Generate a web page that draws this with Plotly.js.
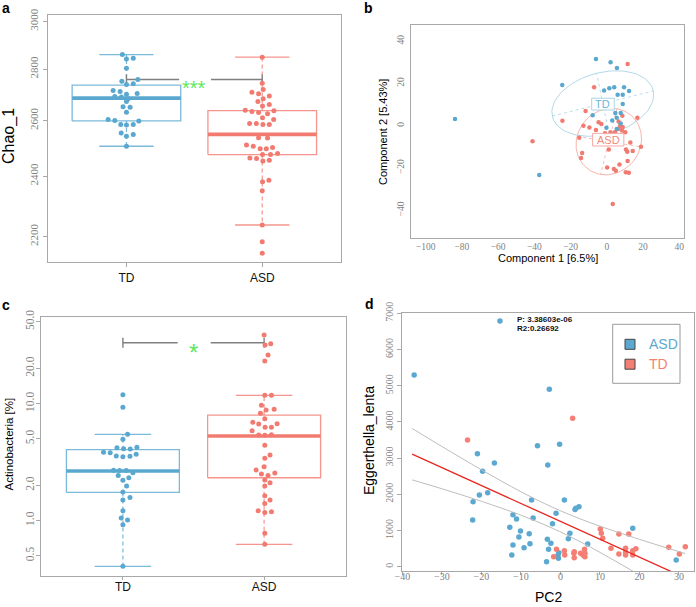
<!DOCTYPE html>
<html><head><meta charset="utf-8">
<script src="https://cdn.plot.ly/plotly-3.0.1.min.js"></script>
<style>html,body{margin:0;padding:0;background:#fff}#chart{width:696px;height:607px}</style>
</head><body><div id="chart"></div>
<script>
// ---------------- DATA ----------------
const groups = ['TD', 'ASD'];

// Panel a: Chao_1 (log axis)
const chaoTD = [2860, 2842, 2845, 2804, 2752, 2759, 2739, 2742, 2716, 2712, 2701, 2704, 2692, 2690, 2683, 2673, 2653, 2651, 2632, 2604, 2601, 2586, 2584, 2586, 2599, 2554, 2549, 2542, 2506];
const chaoTDJitter = [-0.03, 0, 0.05, 0, -0.034, 0.084, 0, 0.05, -0.098, -0.047, 0, 0.079, -0.086, -0.037, 0.012, 0, -0.025, 0.027, 0, -0.135, -0.086, -0.042, 0, 0.05, 0.091, -0.039, 0.05, 0, 0];
const chaoASD = [2849, 2744, 2719, 2709, 2703, 2694, 2683, 2673, 2661, 2656, 2639, 2635, 2631, 2626, 2637, 2611, 2604, 2589, 2589, 2586, 2586, 2537, 2536, 2510, 2506, 2497, 2497, 2501, 2476, 2476, 2480, 2464, 2462, 2453, 2456, 2381, 2386, 2350, 2237, 2184, 2148];
const chaoASDJitter = [0, 0, 0.007, -0.076, -0.027, 0.052, 0.007, -0.032, 0.052, 0.002, -0.125, -0.076, -0.027, 0.039, 0.086, 0.002, 0.084, -0.093, -0.044, 0.005, 0.052, -0.027, 0.039, -0.116, -0.066, -0.015, 0.03, 0.076, 0.002, 0.061, 0.113, -0.091, -0.042, 0.005, 0.052, 0.002, 0.049, 0, 0, 0, 0];
// [lower whisker, Q1, median, Q3, upper whisker]
const chaoBoxTD = [2506, 2599, 2686, 2737, 2860];
const chaoBoxASD = [2237, 2476, 2549, 2638, 2849];
const chaoTicks = [2200, 2400, 2600, 2800, 3000];
const chaoSigY = 2759, chaoSigLabel = '***', chaoStarY = 2744;

// Panel b: PCoA
const pcoaTDx = [-83.8, -37.3, -24.6, -6.0, 2.1, 5.6, -1.5, 1.4, 4.1, 9.5, 12.3, 6.0, 8.8, 8.8, -7.8, 4.7, 7.7, 5.5, 7.7, -0.2, 5.5, 3.0];
const pcoaTDy = [3.2, -23.3, 19.3, 31.5, 30.0, 27.3, 16.6, 17.7, 18.2, 18.2, 16.4, 14.6, 14.6, 10.3, 5.0, 6.0, 6.0, 3.8, 1.1, -0.9, -1.6, 2.5];
const pcoaASDx = [11.5, -7.0, -11.7, -24.5, 16.9, 8.6, -12.9, -9.6, -4.5, -3.0, -6.0, 7.3, 8.8, 6.6, 8.4, 2.1, 4.5, 10.2, -15.2, -41.0, 13.0, 18.9, 1.1, 10.6, 11.3, 14.3, -13.6, -14.2, 11.5, 7.0, 0.2, 3.9, 5.0, 10.5, 12.2, 3.3, -1.0, 6.5];
const pcoaASDy = [29.2, 18.2, 7.0, 2.4, 3.8, 4.7, 0.0, -0.8, 1.6, 0.8, -2.0, -0.1, -0.6, -1.4, -2.2, -3.1, -3.1, -3.1, -5.7, -7.3, -7.9, -9.9, -11.2, -11.2, -12.3, -12.0, -12.9, -15.2, -16.7, -18.3, -19.8, -20.5, -21.3, -22.0, -22.2, -37.0, -3.5, 2.0];
const ellTDCenter = [-2.2, 10.5], ellTDAxisA = [27.9, 5.9], ellTDAxisB = [-3.4, 14.3];
const ellASDCenter = [1.1, -7.5], ellASDAxisA = [17.5, -2.5], ellASDAxisB = [-4.5, -15.5];
const pcoaLabelTD = [-2.1, 10.2], pcoaLabelASD = [0.8, -6.6];
const pcoaXTicks = [-100, -80, -60, -40, -20, 0, 20, 40];
const pcoaYTicks = [-40, -20, 0, 20, 40];

// Panel c: Actinobacteria [%] (log axis)
const actTD = [11.89, 9.28, 5.46, 4.94, 4.19, 4.11, 4.08, 4.22, 3.83, 3.80, 3.56, 3.51, 3.54, 3.68, 2.69, 2.67, 2.67, 2.56, 2.43, 2.32, 2.21, 1.97, 1.75, 1.50, 1.57, 1.21, 1.05, 1.01, 0.92, 0.406];
const actTDJitter = [0, 0, 0.033, 0, -0.042, 0.005, 0.052, 0.099, -0.137, -0.09, -0.047, 0, 0.05, 0.094, -0.066, -0.024, 0.024, 0.071, -0.033, 0.042, 0, 0.026, 0, 0, 0.05, 0, -0.012, 0.033, 0, 0];
const actASD = [38.5, 31.6, 32.4, 25.97, 23.1, 11.75, 11.8, 9.65, 8.80, 8.92, 8.25, 7.41, 6.91, 6.68, 6.26, 6.26, 6.72, 5.85, 5.38, 5.35, 5.41, 4.39, 3.40, 3.63, 2.88, 2.70, 2.50, 2.43, 2.55, 2.22, 2.10, 1.97, 1.63, 1.50, 1.40, 1.21, 1.17, 1.19, 0.78, 0.626];
const actASDJitter = [0, 0.007, 0.047, 0.028, 0.005, 0.005, 0.052, -0.019, 0.014, 0.071, -0.026, 0.005, -0.08, -0.038, 0.007, 0.052, 0.092, -0.085, -0.038, 0.005, 0.052, 0.005, 0.005, 0.042, 0, -0.057, -0.019, 0.028, 0.076, 0.005, 0.042, 0.005, 0.005, 0.042, 0.005, -0.042, 0.005, 0.052, 0.005, 0.005];
const actBoxTD = [0.406, 1.74, 2.65, 4.03, 5.46];
const actBoxASD = [0.626, 2.32, 5.28, 7.97, 11.75];
const actTicks = [0.5, 1, 2, 5, 10, 20, 50];
const actTickText = ['0.5', '1.0', '2.0', '5.0', '10.0', '20.0', '50.0'];
const actSigY = 33.1, actSigLabel = '*', actStarY = 30.6;

// Panel d: Eggerthella_lenta vs PC2
const pc2ASD = [-37.0, -15.3, -2.8, -5.8, -0.2, -3.2, -21.0, -16.7, -19.7, -20.5, -18.4, -22.1, -22.2, -7.3, 1.0, 3.9, 4.7, 3.7, -1.1, -12.0, -11.1, -6.9, -2.0, -12.8, -10.1, 2.4, -10.5, -7.9, 2.0, -12.0, -7.7, -9.2, -3.3, -2.4, 6.9, -3.0, -12.3, -0.4, -0.6, -0.5, -3.5, 29.3, 18.3];
const eggASD = [5296, 6787, 4900, 3343, 3380, 2809, 3122, 2865, 2634, 1981, 2045, 1796, 1290, 1842, 1842, 1612, 1658, 1581, 1474, 1437, 1317, 1345, 1189, 1087, 986, 922, 820, 912, 774, 599, 636, 526, 756, 645, 627, 480, 323, 388, 323, 231, 139, 185, 1060];
const pc2TD = [-23.5, 3.1, 10.1, 10.35, 10.7, 14.8, 17.3, 12.8, 14.8, 16.5, 16.5, 16.5, 18.3, 18.3, 19.1, 27.4, 30.1, 31.6, -1.0, -1.7, 1.0, 1.1, 3.4, 3.5, 3.5, 5.1, 5.7, 6.2, 6.1, 6.2];
const eggTD = [3500, 4100, 1041, 922, 784, 903, 903, 507, 351, 507, 397, 323, 443, 323, 498, 535, 351, 553, 480, 277, 443, 323, 369, 249, 414, 369, 323, 369, 480, 277];
const fitX = [-37.5, 31.6], fitY = [3109, -311];
const bandX = [-37.5, -30, -20, -10, -2, 5, 10, 20, 31.6];
const bandUpper = [3820, 3322, 2679, 2072, 1642, 1322, 1120, 756, 363];
const bandLower = [2398, 2154, 1807, 1424, 1062, 690, 396, -230, -985];
const statP = 'P: 3.38603e-06', statR2 = 'R2:0.26692';
const pc2XTicks = [-40, -30, -20, -10, 0, 10, 20, 30];
const eggYTicks = [0, 1000, 2000, 3000, 4000, 5000, 6000, 7000];

// ---------------- STYLE ----------------
const W = 696, H = 607;
const fx = p => p / W, fy = p => 1 - p / H;
const BLUE = '#5aa8cf', RED = '#f27b71';
const BLUE_BOX = 'rgba(90,168,207,0.8)', RED_BOX = 'rgba(242,123,113,0.8)';
const SERIF = 'Liberation Serif, DejaVu Serif, serif';
const SANS = 'Liberation Sans, Arial, sans-serif';
const TICKGRAY = '#7f7f7f', FRAME = '#a8a8a8';

const traces = [];
function boxTraces(c, s, colBox, colMed, xa, ya) {
  const [lo, q1, med, q3, hi] = s, hw = 0.4, cw = 0.2;
  const common = {mode: 'lines', xaxis: xa, yaxis: ya, hoverinfo: 'skip', showlegend: false};
  return [
    Object.assign({x: [c, c, null, c, c], y: [q3, hi, null, q1, lo], line: {color: colBox, width: 1.2, dash: '4px,3px'}}, common),
    Object.assign({x: [c - hw, c + hw, c + hw, c - hw, c - hw, null, c - cw, c + cw, null, c - cw, c + cw],
                   y: [q1, q1, q3, q3, q1, null, hi, hi, null, lo, lo], line: {color: colBox, width: 1.3}}, common),
    Object.assign({x: [c - hw, c + hw], y: [med, med], line: {color: colMed, width: 3.6}}, common)
  ];
}
function pts(c, vals, jit, col, xa, ya, size) {
  return {x: vals.map((v, i) => c + jit[i]), y: vals, mode: 'markers', xaxis: xa, yaxis: ya,
          marker: {color: col, size: size, line: {width: 0}}, hoverinfo: 'skip', showlegend: false};
}
function bracket(yv, xa, ya) {
  return [
    {x: [1, 1.388, null, 1.622, 2], y: [yv, yv, null, yv, yv], mode: 'lines', xaxis: xa, yaxis: ya,
     line: {color: '#808080', width: 1.4}, hoverinfo: 'skip', showlegend: false},
    {x: [1, 2], y: [yv, yv], mode: 'markers', xaxis: xa, yaxis: ya,
     marker: {symbol: 'line-ns-open', size: 7, line: {color: '#808080', width: 1.4}}, hoverinfo: 'skip', showlegend: false}
  ];
}

// Panel a
traces.push(...boxTraces(1, chaoBoxTD, BLUE_BOX, BLUE, 'x', 'y'));
traces.push(...boxTraces(2, chaoBoxASD, RED_BOX, RED, 'x', 'y'));
traces.push(...bracket(chaoSigY, 'x', 'y'));
traces.push(pts(1, chaoTD, chaoTDJitter, BLUE, 'x', 'y', 5));
traces.push(pts(2, chaoASD, chaoASDJitter, RED, 'x', 'y', 5));

// Panel c
traces.push(...boxTraces(1, actBoxTD, BLUE_BOX, BLUE, 'x3', 'y3'));
traces.push(...boxTraces(2, actBoxASD, RED_BOX, RED, 'x3', 'y3'));
traces.push(...bracket(actSigY, 'x3', 'y3'));
traces.push(pts(1, actTD, actTDJitter, BLUE, 'x3', 'y3', 5));
traces.push(pts(2, actASD, actASDJitter, RED, 'x3', 'y3', 5));

// Panel b
function ellipse(c, a, b, col) {
  const xs = [], ys = [];
  for (let k = 0; k <= 90; k++) {
    const t = k * 2 * Math.PI / 90;
    xs.push(c[0] + a[0] * Math.cos(t) + b[0] * Math.sin(t));
    ys.push(c[1] + a[1] * Math.cos(t) + b[1] * Math.sin(t));
  }
  return [
    {x: xs, y: ys, mode: 'lines', xaxis: 'x2', yaxis: 'y2', line: {color: col, width: 0.9}, hoverinfo: 'skip', showlegend: false},
    {x: [c[0] - a[0], c[0] + a[0], null, c[0] - b[0], c[0] + b[0]], y: [c[1] - a[1], c[1] + a[1], null, c[1] - b[1], c[1] + b[1]],
     mode: 'lines', xaxis: 'x2', yaxis: 'y2', line: {color: col, width: 0.8, dash: 'dot'}, hoverinfo: 'skip', showlegend: false}
  ];
}
traces.push(...ellipse(ellTDCenter, ellTDAxisA, ellTDAxisB, '#a9d4e5'));
traces.push(...ellipse(ellASDCenter, ellASDAxisA, ellASDAxisB, '#f6aaa3'));
traces.push({x: pcoaASDx, y: pcoaASDy, mode: 'markers', xaxis: 'x2', yaxis: 'y2', marker: {color: RED, size: 4.5}, hoverinfo: 'skip', showlegend: false});
traces.push({x: pcoaTDx, y: pcoaTDy, mode: 'markers', xaxis: 'x2', yaxis: 'y2', marker: {color: BLUE, size: 4.5}, hoverinfo: 'skip', showlegend: false});

// Panel d
const D_BLUE = '#5ba9d0', D_RED = '#f47f74';
traces.push({x: pc2ASD, y: eggASD, mode: 'markers', xaxis: 'x4', yaxis: 'y4', marker: {color: D_BLUE, size: 5.5}, hoverinfo: 'skip', showlegend: false});
traces.push({x: pc2TD, y: eggTD, mode: 'markers', xaxis: 'x4', yaxis: 'y4', marker: {color: D_RED, size: 5.5}, hoverinfo: 'skip', showlegend: false});
traces.push({x: bandX, y: bandUpper, mode: 'lines', xaxis: 'x4', yaxis: 'y4', line: {color: '#bdbdbd', width: 1, shape: 'spline'}, hoverinfo: 'skip', showlegend: false});
traces.push({x: bandX, y: bandLower, mode: 'lines', xaxis: 'x4', yaxis: 'y4', line: {color: '#bdbdbd', width: 1, shape: 'spline'}, hoverinfo: 'skip', showlegend: false});
traces.push({x: fitX, y: fitY, mode: 'lines', xaxis: 'x4', yaxis: 'y4', line: {color: '#e8261f', width: 1.3}, hoverinfo: 'skip', showlegend: false});

// ---------------- LAYOUT ----------------
const axisBase = {showgrid: false, zeroline: false, showline: true, mirror: true, linecolor: FRAME, linewidth: 1,
                  ticks: 'outside', tickcolor: FRAME, ticklen: 4, tickwidth: 1, fixedrange: true};
const serifTick = s => ({family: SERIF, size: s, color: TICKGRAY});

const layout = {
  width: W, height: H, margin: {l: 0, r: 0, t: 0, b: 0}, autosize: false,
  paper_bgcolor: '#fff', plot_bgcolor: '#fff', hovermode: false, showlegend: false,
  xaxis: Object.assign({}, axisBase, {domain: [fx(47.7), fx(341)], anchor: 'y', range: [0.42, 2.58],
    tickvals: [1, 2], ticktext: groups, tickfont: {family: SANS, size: 12, color: '#111'}}),
  yaxis: Object.assign({}, axisBase, {domain: [fy(262.3), fy(14.7)], anchor: 'x', type: 'log',
    range: [Math.log10(2120), Math.log10(3029)], tickvals: chaoTicks, ticktext: chaoTicks.map(String),
    tickangle: -90, tickfont: serifTick(11)}),
  xaxis2: Object.assign({}, axisBase, {domain: [fx(411), fx(684.3)], anchor: 'y2', range: [-108.1, 42.8],
    tickvals: pcoaXTicks, tickfont: serifTick(9.5), ticks: '', ticklen: 0, ticklabelstandoff: -1}),
  yaxis2: Object.assign({}, axisBase, {domain: [fy(238.3), fy(25)], anchor: 'x2', range: [-53.2, 47.6],
    tickvals: pcoaYTicks, tickangle: -90, tickfont: serifTick(9.5), ticks: '', ticklen: 0, ticklabelstandoff: 2}),
  xaxis3: Object.assign({}, axisBase, {domain: [fx(41), fx(346)], anchor: 'y3', range: [0.42, 2.58],
    tickvals: [1, 2], ticktext: groups, tickfont: {family: SANS, size: 12, color: '#111'}, ticklen: 3, ticklabelstandoff: -3}),
  yaxis3: Object.assign({}, axisBase, {domain: [fy(575.7), fy(317.3)], anchor: 'x3', type: 'log',
    range: [Math.log10(0.3375), Math.log10(54.6)], tickvals: actTicks, ticktext: actTickText,
    tickangle: -90, tickfont: serifTick(11.5), ticklabelstandoff: -3}),
  xaxis4: Object.assign({}, axisBase, {domain: [fx(402.3), fx(694)], anchor: 'y4', range: [-40, 33.8],
    tickvals: pc2XTicks, tickfont: serifTick(10), ticklen: 3, ticklabelstandoff: -7}),
  yaxis4: Object.assign({}, axisBase, {domain: [fy(571), fy(312.7)], anchor: 'x4', range: [-119, 7017],
    tickvals: eggYTicks, tickangle: -90, tickfont: serifTick(10)}),
  shapes: [
    // label boxes panel b
    {type: 'rect', xref: 'x2', yref: 'y2', xsizemode: 'pixel', ysizemode: 'pixel', xanchor: pcoaLabelTD[0], yanchor: pcoaLabelTD[1],
     x0: -11.3, x1: 11.3, y0: -5.9, y1: 5.9, line: {color: '#a9d4e5', width: 1}, fillcolor: 'rgba(255,255,255,0.85)', layer: 'above'},
    {type: 'rect', xref: 'x2', yref: 'y2', xsizemode: 'pixel', ysizemode: 'pixel', xanchor: pcoaLabelASD[0], yanchor: pcoaLabelASD[1],
     x0: -15.6, x1: 15.6, y0: -6.3, y1: 6.3, line: {color: '#f6aaa3', width: 1}, fillcolor: 'rgba(255,255,255,0.85)', layer: 'above'},
    // legend panel d
    {type: 'rect', xref: 'paper', yref: 'paper', x0: fx(612.7), x1: fx(680), y0: fy(383.3), y1: fy(324.3),
     line: {color: '#9a9a9a', width: 1}, fillcolor: '#fff', layer: 'above'},
    {type: 'rect', xref: 'paper', yref: 'paper', x0: fx(625), x1: fx(635), y0: fy(349.3), y1: fy(339.3),
     line: {color: '#444', width: 1}, fillcolor: D_BLUE, layer: 'above'},
    {type: 'rect', xref: 'paper', yref: 'paper', x0: fx(625), x1: fx(635), y0: fy(369.2), y1: fy(359.2),
     line: {color: '#444', width: 1}, fillcolor: D_RED, layer: 'above'}
  ],
  annotations: []
};

const A = layout.annotations;
function pap(text, x, y, opt) {
  A.push(Object.assign({text: text, xref: 'paper', yref: 'paper', x: fx(x), y: fy(y), showarrow: false,
    xanchor: 'center', yanchor: 'middle', font: {family: SANS, size: 12, color: '#000'}}, opt || {}));
}
// panel letters
pap('<b>a</b>', 6, 8.5, {font: {family: SANS, size: 14, color: '#000'}});
pap('<b>b</b>', 368, 8, {font: {family: SANS, size: 14, color: '#000'}});
pap('<b>c</b>', 5.5, 305, {font: {family: SANS, size: 14, color: '#000'}});
pap('<b>d</b>', 369.5, 304, {font: {family: SANS, size: 14, color: '#000'}});
// axis titles
pap('Chao_1', 9, 136, {textangle: -90, font: {family: SANS, size: 16, color: '#000'}});
pap('Component 2 [5.43%]', 383, 132, {textangle: -90, font: {family: SANS, size: 11, color: '#000'}});
pap('Component 1 [6.5%]', 547.7, 258, {font: {family: SANS, size: 11, color: '#000'}});
pap('Actinobacteria [%]', 8.5, 444, {textangle: -90, font: {family: SANS, size: 11.5, color: '#000'}});
pap('Eggerthella_lenta', 369, 441, {textangle: -90, font: {family: SANS, size: 14, color: '#000'}});
pap('PC2', 548.3, 596.7, {font: {family: SANS, size: 14, color: '#000'}});
// stats text panel d
const narrow = {family: 'Liberation Sans Narrow, Liberation Sans, Arial, sans-serif', size: 8, color: '#111'};
pap('<b>' + statP + '</b>', 515, 319, {xanchor: 'left', font: narrow});
pap('<b>' + statR2 + '</b>', 515, 329, {xanchor: 'left', font: narrow});
// legend texts
pap('ASD', 646.7, 344.3, {xanchor: 'left', font: {family: SANS, size: 14, color: D_BLUE}});
pap('TD', 646.7, 364.2, {xanchor: 'left', font: {family: SANS, size: 14, color: D_RED}});
// significance stars
A.push({text: chaoSigLabel, xref: 'x', yref: 'y', x: 1.5, y: Math.log10(chaoStarY), showarrow: false, yshift: -4.5,
        font: {family: SANS, size: 20, color: '#5de85d'}});
A.push({text: actSigLabel, xref: 'x3', yref: 'y3', x: 1.5, y: Math.log10(actStarY), showarrow: false, yshift: -5.5,
        font: {family: SANS, size: 24, color: '#5de85d'}});
// group labels panel b
A.push({text: 'TD', xref: 'x2', yref: 'y2', x: pcoaLabelTD[0], y: pcoaLabelTD[1], showarrow: false,
        font: {family: SANS, size: 11, color: '#6fb4d4'}});
A.push({text: 'ASD', xref: 'x2', yref: 'y2', x: pcoaLabelASD[0], y: pcoaLabelASD[1], showarrow: false,
        font: {family: SANS, size: 11, color: '#f08a80'}});

Plotly.newPlot('chart', traces, layout, {staticPlot: true, displayModeBar: false});
</script></body></html>
